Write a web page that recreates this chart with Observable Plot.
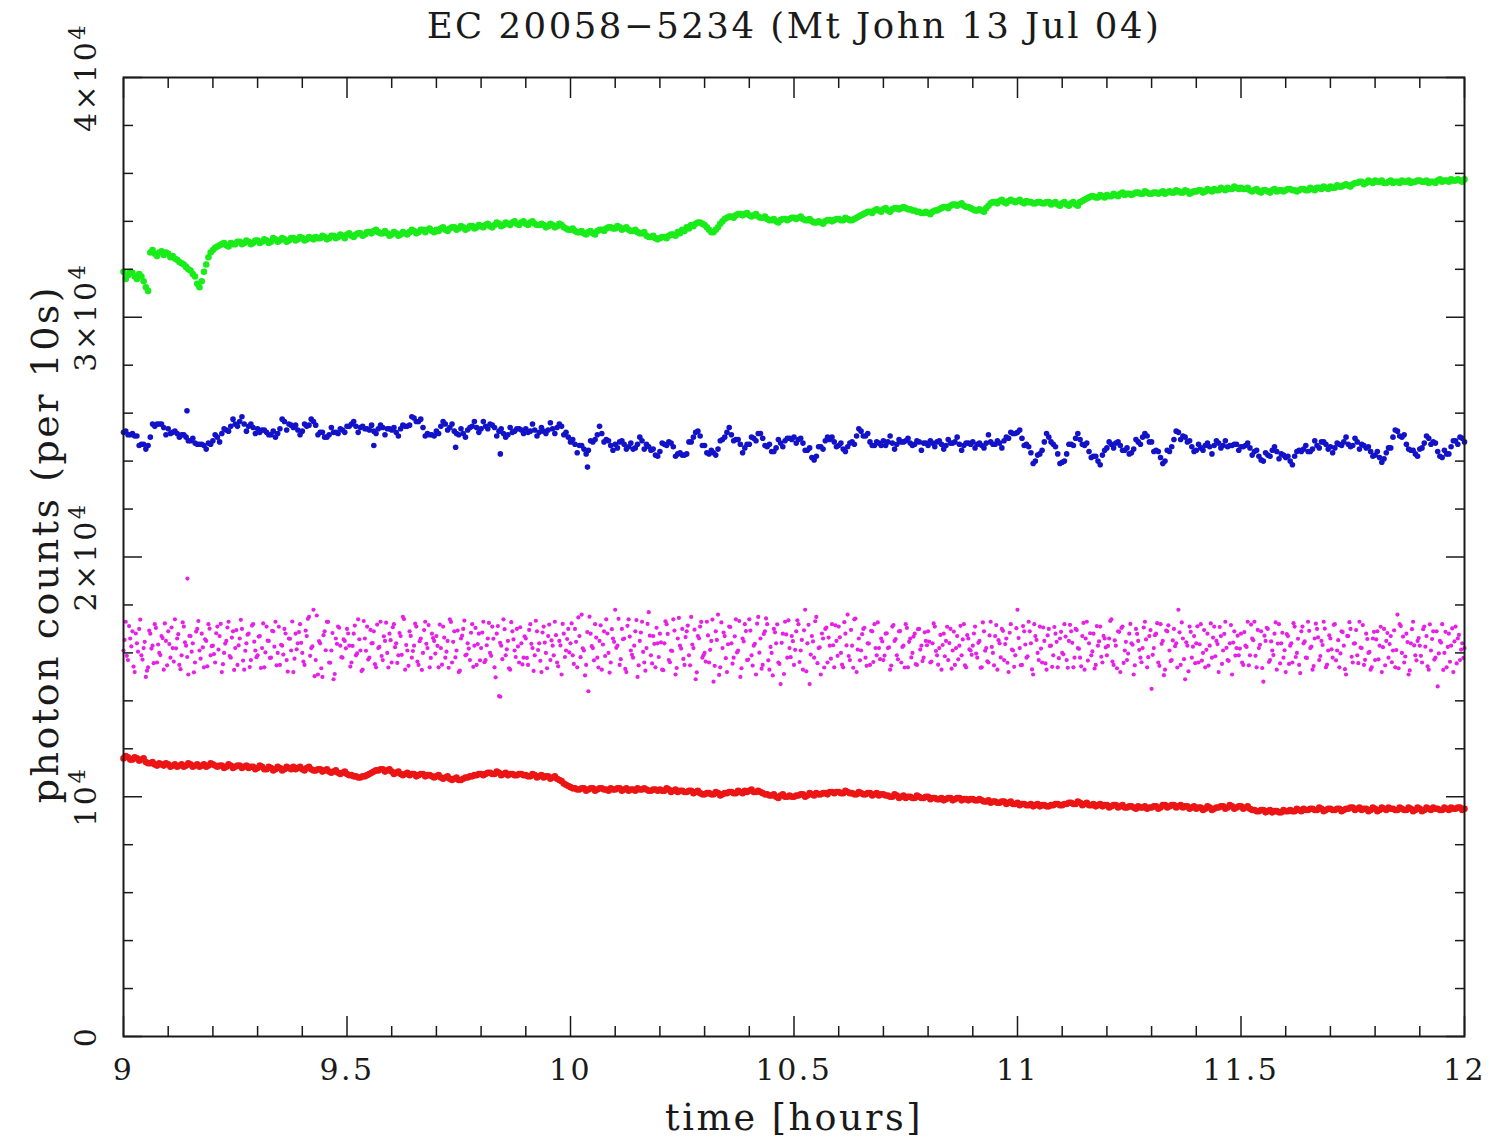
<!DOCTYPE html>
<html><head><meta charset="utf-8">
<script src="https://cdn.jsdelivr.net/npm/d3@7"></script>
<script src="https://cdn.jsdelivr.net/npm/@observablehq/plot@0.6"></script>
<style>
html,body{margin:0;padding:0;background:#fff;}
#chart svg{display:block;}
#chart text{letter-spacing:2.5px;}
</style></head><body><div id="chart"></div>
<script>
const title = "EC 20058\u22125234 (Mt John 13 Jul 04)";
const xLabel = "time [hours]";
const yLabel = "photon counts (per 10s)";

const tStart = 9.0;
const stepSmooth = 0.01;     // green, blue, red: readings every 0.01 h, plus mid-step readings
const stepMagenta = 0.005;   // magenta: readings every 0.005 h, plus mid-step readings

const green = [
31900,31750,31850,31600,31700,31250,
32700,32650,32700,32600,32650,32550,
32400,32250,32100,31950,31700,31250,31900,32500,
32800,32950,33050,33000,33100,33050,33150,33100,33150,33100,
33200,33150,33200,33150,33250,33200,33250,33200,33300,33250,
33300,33250,33300,33350,33300,33350,33300,33400,33350,33400,
33450,33400,33450,33500,33450,33550,33600,33550,33500,33500,
33450,33500,33450,33500,33550,33600,33550,33650,33650,33600,
33650,33700,33650,33700,33750,33700,33750,33700,33800,33750,
33800,33850,33800,33850,33900,33850,33900,33950,33900,33950,
33900,33950,33900,33850,33850,33800,33850,33800,33850,33700,
33650,33600,33550,33500,33550,33500,33600,33650,33700,33750,
33700,33750,33700,33650,33600,33550,33500,33400,33350,33300,
33300,33350,33400,33450,33550,33650,33750,33850,33900,33950,
33850,33650,33550,33750,34000,34150,34200,34250,34300,34300,
34250,34250,34200,34150,34100,34050,34000,34050,34100,34100,
34150,34150,34100,34050,34000,33950,33950,34000,34050,34050,
34100,34050,34100,34050,34150,34250,34350,34400,34450,34450,
34500,34450,34500,34550,34550,34550,34500,34450,34400,34350,
34350,34400,34450,34550,34600,34650,34700,34700,34650,34600,
34500,34450,34450,34550,34750,34800,34850,34800,34850,34850,
34850,34800,34850,34800,34750,34800,34750,34800,34750,34700,
34750,34700,34750,34700,34800,34900,35000,35050,35000,35050,
35100,35050,35100,35150,35100,35150,35150,35200,35150,35200,
35150,35200,35200,35150,35250,35200,35250,35200,35250,35200,
35250,35300,35250,35300,35350,35300,35350,35400,35350,35400,
35400,35350,35300,35300,35250,35300,35250,35300,35250,35300,
35300,35350,35300,35300,35350,35300,35350,35400,35350,35400,
35450,35400,35450,35500,35500,35550,35600,35650,35600,35650,
35700,35650,35600,35650,35600,35650,35700,35650,35600,35650,
35700,35650,35600,35650,35700,35650,35700,35750,35700,35700,
35750];
const greenMid = [
31600,31900,31700,31800,31500,31100,
32800,32550,32750,32700,32500,32450,
32300,32200,32000,31800,31400,31500,32200,32700,
32900,33000,33100,32950,33050,33150,33050,33200,33050,33200,
33100,33250,33100,33300,33150,33300,33150,33300,33200,33350,
33200,33350,33250,33300,33400,33250,33400,33300,33450,33300,
33500,33350,33500,33400,33550,33500,33650,33500,33600,33400,
33550,33400,33550,33450,33650,33500,33650,33550,33700,33550,
33600,33750,33600,33750,33650,33800,33650,33800,33700,33850,
33750,33900,33750,33950,33800,33950,33850,34000,33850,34000,
33850,34000,33850,33900,33750,33900,33750,33900,33750,33650,
33700,33550,33600,33450,33600,33450,33650,33600,33750,33700,
33800,33650,33750,33600,33650,33500,33550,33350,33400,33250,
33350,33300,33450,33400,33500,33600,33700,33800,33950,33900,
33750,33550,33650,33900,34100,34200,34150,34300,34250,34350,
34200,34300,34150,34200,34050,34100,33950,34100,34050,34150,
34100,34200,34050,34100,33950,34000,33900,34050,34000,34100,
34050,34150,34050,34100,34200,34300,34400,34350,34500,34400,
34550,34400,34550,34500,34600,34500,34450,34400,34350,34400,
34300,34450,34500,34600,34550,34700,34650,34750,34600,34550,
34450,34500,34400,34650,34800,34750,34900,34750,34900,34800,
34900,34750,34800,34750,34800,34750,34800,34700,34800,34650,
34800,34650,34800,34650,34850,34950,35050,35000,35100,35000,
35050,35150,35050,35200,35150,35100,35200,35150,35250,35150,
35200,35150,35250,35200,35200,35300,35200,35300,35150,35250,
35300,35200,35350,35250,35300,35400,35300,35350,35450,35350,
35350,35400,35250,35350,35200,35300,35200,35350,35300,35250,
35350,35300,35250,35350,35300,35400,35300,35400,35450,35350,
35400,35500,35450,35550,35450,35600,35650,35550,35700,35600,
35650,35700,35600,35700,35650,35600,35650,35700,35650,35700,
35650,35700,35650,35600,35750,35700,35650,35700,35750,35650];

const blue = [
25200,25100,25150,25050,24700,24500,25000,25450,25550,25400,
25350,25200,25150,25100,25000,24850,24750,24700,24650,24750,
24850,25000,25150,25300,25450,25550,25650,25550,25450,25400,
25350,25300,25200,25100,25000,25350,25650,25550,25400,25300,
25250,25450,25750,25500,25200,25000,25100,25200,25150,25300,
25450,25550,25450,25400,25350,25300,25250,25350,25400,25350,
25300,25200,25350,25450,25500,25800,25650,25400,25150,25100,
25250,25450,25550,25400,25250,25100,25150,25300,25450,25400,
25350,25450,25550,25400,25250,25150,25100,25200,25350,25300,
25350,25250,25300,25200,25250,25300,25350,25400,25450,25200,
24800,24700,24650,24500,24450,24800,25100,25150,24900,24650,
24700,24800,24700,24600,24500,24700,24850,24700,24450,24250,
24400,24700,24800,24600,24300,24250,24300,24800,25200,25050,
24650,24300,24350,24500,24900,25200,25100,24900,24700,24550,
24700,24950,25150,24950,24600,24400,24550,24750,24850,24950,
25000,24900,24750,24450,24150,24200,24600,24850,24900,24800,
24650,24500,24600,24800,25050,25250,25050,24800,24650,24750,
24850,24800,24750,24700,24800,24850,24750,24700,24800,24750,
24650,24750,24800,24700,24650,24750,24800,24700,24650,24750,
24800,24700,24650,24750,24800,24700,24750,24850,24950,25150,
25200,24950,24700,24350,24000,24300,24800,25000,24700,24300,
23950,24300,24700,24950,24900,24650,24400,24200,24000,24250,
24550,24700,24750,24650,24450,24300,24500,24800,25000,25050,
24800,24450,24150,24000,24400,24900,25200,25050,24800,24600,
24450,24550,24650,24600,24650,24750,24650,24600,24650,24700,
24600,24650,24550,24400,24200,24000,24250,24450,24400,24300,
24150,24000,24200,24450,24500,24400,24500,24650,24800,24700,
24600,24550,24700,24800,24700,24650,24800,24700,24550,24400,
24250,24150,24100,24550,25000,25250,25000,24700,24450,24300,
24500,24750,24950,24800,24400,24150,24300,24600,24850,25000,
24800];
const blueMid = [
25250,25100,25050,24650,24700,24650,25550,25550,25550,25100,
25150,25250,25000,25100,24850,24950,24700,24700,24500,24700,
25100,24800,25350,25250,25750,25450,25850,25250,25550,25150,
25200,25300,25100,25250,25150,25750,25300,25500,25500,25100,
25550,25500,25650,25100,25200,25000,25400,25200,25350,25200,
25450,25650,25200,25450,25350,25500,25150,25500,25100,25350,
25400,25050,25500,25450,25850,25650,25750,25050,25100,25050,
25150,25650,25300,25550,25150,25350,25000,25400,25650,25200,
25650,25350,25500,25050,25350,25000,25400,25250,25350,25150,
25200,25550,25050,25400,25150,25600,25150,25550,25100,25000,
24900,24350,24650,24300,24850,24900,25450,24800,24850,24450,
24550,24850,24500,24750,24550,25000,24500,24600,24500,24200,
24750,24650,24750,24200,24350,24250,24800,25000,25250,24650,
24350,24450,24250,24850,25000,25400,24850,24900,24350,24700,
25000,24850,25150,24650,24700,24400,24900,24600,24950,24900,
24750,24950,24450,24550,24050,24600,24500,25000,25000,24600,
24750,24400,24750,24700,25350,25050,25150,24650,24800,24650,
24650,25050,24500,24900,24800,24950,24650,24850,24450,24750,
24850,24600,24850,24500,24900,24750,25000,24450,24750,24700,
24550,24750,24550,25100,24700,24850,24550,25000,25200,25150,
25300,24650,24600,23900,24250,24450,25150,24800,24600,23900,
24000,24700,24650,25150,24700,24750,24150,24200,23850,24450,
24800,24550,24800,24450,24550,24350,24900,24700,25150,24800,
24400,24400,23900,24450,24600,25250,24900,25000,24850,24400,
24700,24450,24750,24300,24850,24550,24850,24650,24700,24450,
24600,24750,24250,24450,24050,24350,24200,24600,24100,24250,
24200,23850,24400,24400,24650,24400,24850,24550,24800,24500,
24350,24750,24650,25000,24600,24950,24500,24650,24600,24200,
24400,23950,24350,24550,25300,25050,25100,24500,24450,24200,
24550,25050,24700,24750,24200,24450,24300,24850,24700,24950];
const blueOutlierT = [9.142, 9.56, 9.743, 9.843, 10.038];
const blueOutlierV = [26100, 24650, 24580, 24300, 23750];

const magenta = [
16100,17300,15700,16600,16900,15200,16400,17000,15900,16200,15000,15400,16800,16300,17200,15600,16000,16700,15300,16500,
16900,15800,16200,17400,16600,15500,15900,17100,16300,15100,16700,16400,15600,17000,16100,16800,15400,16500,17200,15900,
16300,15600,17100,16700,15200,16000,16500,17300,15800,16900,16200,15500,16600,17000,15300,16400,16800,15700,17200,16100,
15900,16700,16200,15400,17100,16500,15800,16900,17300,16000,15500,16300,17000,15700,16600,16100,15200,16800,16400,17200,
16000,15500,16700,17500,16200,17800,15700,15100,16400,15000,16900,17300,15600,16100,14900,16600,17100,16300,15800,16500,
17000,16300,15600,16800,15900,17400,16100,15300,16600,17100,15800,16400,16900,15400,16200,17300,15700,16500,16000,16800,
15600,17200,16400,15900,16700,17500,15300,16100,16900,15800,16300,17100,15500,16600,16000,17300,16200,15400,16800,16500,
16700,15400,16200,17100,15800,16500,17400,15600,16900,16100,15200,16600,17000,15900,16400,15700,17200,16300,15500,16800,
16200,17300,15700,16600,16000,17100,15400,16800,14200,16300,17400,15900,16500,15300,16900,16100,17000,15600,16400,15800,
16600,15500,17200,16200,15900,16900,16400,15200,17100,16000,16700,15700,16300,17300,15600,16500,15100,16800,16100,17000,
16400,15900,17000,15400,16700,17600,16100,15500,14400,16800,16200,17200,15800,16500,15300,16900,17400,16000,15600,16600,
17800,16300,15500,17000,16600,15200,17400,16100,15800,16900,15000,16500,17300,15600,16200,17700,15900,16700,15400,16400,
16800,15300,16400,17200,15700,16100,17400,15100,16600,16300,17000,15500,16900,15900,17500,16200,14900,16700,17100,15800,
16000,17300,15600,16500,14800,16900,17600,15400,16200,16700,15200,17100,16400,15800,17400,16100,15000,16600,17200,15700,
17400,15900,16300,15100,17500,16600,15500,16900,17200,15300,16000,17000,16400,15600,14700,16800,17300,15800,16200,16700,
15500,16900,17200,16100,15300,17800,16400,14700,16700,15800,17500,16200,15100,16600,17000,15600,16300,17200,15400,16500,
17100,16000,15400,16800,17600,15700,16300,17400,15200,16600,16100,17000,15800,16400,15500,16900,17200,15900,16200,16600,
15700,16800,16200,15300,17100,16500,15900,16900,15600,16300,17200,15400,16600,16000,16800,15500,17000,16300,15800,16500,
16900,15600,16400,17100,15900,16200,15300,16800,16500,15700,17000,16100,15500,16700,16300,15900,17200,15400,16600,16100,
16300,17100,15800,16500,15400,16900,16200,15600,17300,16000,16700,15300,16400,17000,15700,16600,15200,17200,16100,15900,
17800,16200,15500,16900,15800,17300,16400,15100,16700,16000,17100,15600,16500,15300,17000,16300,15900,16800,15400,16600,
16000,17200,15700,16500,16900,15400,17000,16200,15800,16700,15300,17300,16400,15900,16800,15500,16300,17100,15600,16600,
15900,16600,17400,15500,16300,16900,15200,17100,16100,15700,16800,16400,15100,17000,16500,15800,16200,17300,15400,16700,
14500,16200,16800,15600,17200,16500,15300,16900,16100,15700,17000,16400,17800,15500,16600,14900,16300,17100,15800,16700,
16400,15600,17200,16000,15400,16800,16300,15800,17100,16500,15200,16700,16100,17300,15700,16400,15100,16900,16200,15900,
16800,15500,16300,17300,15900,16600,17300,15400,16200,16900,14800,16500,17000,15700,16100,16800,15300,17200,16400,15800,
15200,16700,16300,15600,17100,16000,15500,16900,16400,15800,17300,16200,15300,16600,17000,15700,16500,17300,15400,16100,
16600,15800,17200,16100,15400,16900,16300,15100,16700,17000,15600,16400,15900,17300,16200,15500,16800,16000,15300,16600,
15700,16900,16300,15200,17000,16500,15800,16700,16100,15400,17600,17200,16000,15600,16800,15100,16400,17300,15900,16500,
16300,15600,17100,16700,15300,16100,16900,15800,14600,16500,17200,16000,15400,16800,16300,15200,17100,16600,15700,16400,
16200];
const magentaMid = [
16540,15880,17120,16270,15430,16810,16050,17390,15720,16460,15260,16930,16180,15570,17040,16350,15910,16620,17230,15480,
16370,17060,15640,16190,16780,15320,17270,16440,15830,16710,16050,15190,16890,17330,15760,16230,16570,15440,17010,16280,
15950,16820,16140,17210,15530,16390,17060,15870,16640,15290,16950,16310,17380,15680,16090,16760,15410,17140,16470,15820,
16680,15370,17230,16020,16510,15790,16920,16260,15480,17090,16340,15930,16810,15220,16590,17310,15760,16150,16870,16420,
15640,16930,17420,15880,16270,15030,17560,16490,15360,16740,16110,17290,15590,16830,15120,16380,17050,15820,16560,16190,
16810,15430,16290,17140,15980,16570,15240,17330,16090,15720,16960,16410,15530,17180,16250,15870,16690,17260,15390,16530,
17070,16240,15580,16830,15920,17410,16330,15460,16710,16080,17220,15640,16490,15290,16950,16380,17160,15790,16620,15970,
16290,17180,15510,16640,16050,15380,17290,16460,15810,16930,15260,16720,17350,15930,16180,16840,15420,17040,16370,15690,
16850,15610,16320,17250,15880,16590,14980,17120,16420,15740,16990,16150,15360,17280,16560,15830,16270,17070,15520,16690,
15790,16960,16380,15250,17340,16120,15670,16850,16430,15360,17180,16520,15900,16740,15440,16310,17210,15830,16580,16020,
17230,15540,16460,17480,15820,16190,15060,16870,17510,16280,15690,16640,15390,17150,16350,15870,16810,15180,16990,16460,
16210,17420,15740,16570,15330,17130,16680,15920,16300,17370,15480,16850,16040,15260,17210,16720,15560,16380,17050,15830,
16440,15280,17320,16790,15610,16080,16930,15370,17460,16180,15750,16660,17140,15480,16350,16970,15190,16610,17290,15900,
15640,16730,16130,17390,15460,16540,15080,17270,16850,15780,16360,17080,15550,16690,16020,17330,15360,16480,16910,15720,
16930,15470,16380,17220,16010,15340,16790,17440,15690,16250,15060,16860,17190,15540,16420,15120,16770,17360,15820,16490,
16130,17360,15620,16540,16940,15230,17170,15930,16480,17320,15570,16230,16810,15390,17060,16640,15760,16320,17150,15880,
16650,15510,17280,16310,15870,16960,15380,17430,16140,15690,16780,17050,15460,16390,16920,15620,16200,17270,15740,16480,
15890,16820,16230,15470,17160,16580,15730,16910,16250,15390,17040,16460,15810,16680,15530,16990,16140,15660,16860,16320,
16470,15640,17230,16080,15510,16750,16330,15860,17090,16410,15340,16890,16200,15730,17130,16560,15480,16740,16150,15920,
16810,15970,16420,15380,17270,16090,15650,16730,16250,15480,17160,16530,15810,16920,16370,15590,16840,16140,15420,17030,
16620,15490,17120,16350,15860,16900,15310,17200,16540,15700,16180,17060,15560,16730,16290,15420,17080,16460,15780,16880,
15940,16680,15380,17170,16420,15800,16950,16170,15440,17250,16600,15680,16820,16060,15350,17120,16480,15840,16710,16230,
16290,17330,15640,16520,15360,16880,17040,15580,16460,15970,17210,16340,15480,16790,16130,15610,17060,16560,15820,16950,
15920,16740,17240,15460,16380,15070,16930,17150,15660,16520,16280,15390,16860,17270,15740,16440,15230,16880,16260,15570,
17110,16360,15680,16950,16130,15470,17230,16640,15860,16370,17080,15540,16790,16210,15670,17160,16430,15890,16720,16180,
15600,16870,16250,15480,17180,16530,15880,16960,16340,15370,16720,17050,15620,16480,15910,17270,16390,15560,16840,16110,
16780,15540,16400,17240,15830,16590,15160,17100,16480,15790,16920,16260,15450,17220,16650,15870,16330,17010,15510,16730,
16150,17170,15690,16530,15980,16870,15320,16710,17280,15840,16390,16950,15570,16220,17160,15710,16580,16040,15400,16880,
16560,15730,17090,16240,15480,16830,16370,15610,16940,16120,15360,17120,16680,15850,16450,15270,16990,16310,15690,16620,
15880,16990,16260,15440,17190,16580,15720,16900,15980,16430,15290,16880,16250,15630,17020,16480,15560,16750,16140,15790];
const magentaOutlierT = [9.143, 9.843];
const magentaOutlierV = [19100, 14170];

const red = [
11600,11650,11550,11600,11550,11450,11400,11350,11400,11300,
11350,11300,11250,11350,11300,11350,11300,11250,11350,11300,
11350,11250,11300,11250,11300,11250,11300,11250,11200,11250,
11200,11250,11150,11200,11150,11200,11150,11200,11250,11200,
11150,11200,11150,11100,11150,11100,11050,11050,11000,11000,
10950,10900,10850,10800,10850,10950,11050,11100,11150,11100,
11050,11000,10950,10950,10900,10950,10900,10950,10900,10850,
10850,10800,10800,10750,10750,10700,10750,10800,10850,10900,
10950,10950,11000,10950,11000,10950,10900,10950,10900,10950,
10900,10850,10900,10850,10800,10850,10800,10750,10650,10500,
10400,10350,10300,10350,10300,10350,10300,10350,10300,10350,
10300,10350,10300,10250,10300,10350,10300,10300,10250,10300,
10300,10250,10300,10250,10200,10250,10200,10250,10200,10150,
10100,10150,10100,10150,10100,10150,10200,10150,10200,10250,
10250,10200,10250,10150,10100,10050,10000,10050,10000,10050,
10000,10050,10100,10050,10100,10150,10100,10150,10200,10150,
10200,10150,10200,10150,10100,10150,10100,10150,10100,10050,
10100,10050,10000,10050,10000,9950,10000,9950,10000,9950,
10000,9950,9900,9950,9900,9950,9900,9950,9900,9850,
9900,9850,9850,9800,9750,9800,9750,9800,9750,9700,
9750,9700,9650,9700,9650,9600,9650,9600,9650,9700,
9650,9700,9750,9700,9750,9700,9650,9700,9650,9600,
9650,9600,9650,9600,9550,9600,9550,9600,9550,9500,
9550,9600,9550,9650,9600,9650,9600,9550,9600,9550,
9500,9550,9500,9550,9500,9550,9600,9550,9600,9550,
9600,9550,9500,9450,9400,9450,9400,9350,9400,9350,
9400,9450,9400,9450,9500,9450,9500,9450,9500,9450,
9500,9450,9500,9450,9500,9550,9500,9450,9500,9450,
9500,9450,9500,9550,9500,9450,9500,9450,9500,9450,
9500,9450,9500,9550,9500,9450,9500,9550,9500,9550,
9500];
const redMid = [
11700,11550,11650,11500,11600,11400,11450,11300,11350,11400,
11250,11350,11300,11250,11400,11250,11350,11300,11250,11400,
11300,11300,11200,11350,11200,11300,11200,11300,11250,11150,
11300,11150,11250,11100,11250,11100,11250,11150,11150,11250,
11100,11250,11100,11150,11050,11150,11000,11100,10950,11050,
10900,10850,10800,10850,10900,11000,11100,11150,11050,11150,
10950,11050,10900,11000,10950,10850,10950,10850,10900,10800,
10900,10750,10850,10700,10800,10700,10800,10850,10900,10950,
10900,11000,10950,11050,10900,11000,10950,10900,10950,10900,
10850,10950,10800,10900,10850,10750,10850,10700,10550,10450,
10350,10300,10350,10250,10350,10250,10350,10300,10250,10300,
10350,10250,10350,10300,10250,10300,10350,10250,10300,10250,
10250,10350,10200,10300,10250,10200,10250,10150,10250,10100,
10150,10100,10200,10050,10150,10200,10150,10250,10150,10200,
10300,10200,10200,10100,10050,10100,9950,10100,10000,10000,
10050,10100,10000,10150,10050,10100,10150,10100,10200,10200,
10150,10250,10150,10100,10200,10100,10150,10050,10150,10100,
10050,10000,10100,9950,10050,10000,9950,10050,9950,10000,
9900,9950,9900,9850,9950,9850,9950,9850,9900,9900,
9850,9900,9800,9850,9800,9750,9800,9700,9800,9700,
9650,9700,9650,9600,9700,9650,9600,9650,9700,9650,
9700,9750,9700,9800,9650,9750,9650,9600,9700,9650,
9550,9650,9550,9650,9550,9600,9500,9550,9600,9550,
9600,9500,9650,9550,9650,9550,9650,9600,9500,9600,
9550,9450,9600,9450,9550,9600,9500,9650,9500,9600,
9500,9600,9450,9400,9450,9350,9450,9400,9350,9450,
9400,9400,9500,9400,9450,9500,9450,9550,9400,9500,
9450,9500,9400,9500,9550,9450,9550,9500,9400,9550,
9400,9550,9450,9500,9450,9550,9450,9550,9400,9550,
9400,9550,9450,9500,9450,9550,9450,9500,9550,9450];

const seriesColors = {green: "#19ec19", blue: "#1212c8", magenta: "#e620e6", red: "#ec1414"};

const xMajor = [9, 9.5, 10, 10.5, 11, 11.5, 12];
const xMajorLabels = ["9", "9.5", "10", "10.5", "11", "11.5", "12"];
const xMinor = [9.1, 9.2, 9.3, 9.4, 9.6, 9.7, 9.8, 9.9, 10.1, 10.2, 10.3, 10.4, 10.6, 10.7, 10.8, 10.9, 11.1, 11.2, 11.3, 11.4, 11.6, 11.7, 11.8, 11.9];
const yMajor = [0, 10000, 20000, 30000, 40000];
const yMajorLabels = ["0", "10^4", "2\u00d710^4", "3\u00d710^4", "4\u00d710^4"];
const yMinor = [2000, 4000, 6000, 8000, 12000, 14000, 16000, 18000, 22000, 24000, 26000, 28000, 32000, 34000, 36000, 38000];

function toRows(values, step, offset) {
  return values.map((v, i) => ({t: +(tStart + offset + i * step).toFixed(5), v}));
}
function extras(ts, vs) { return ts.map((t, i) => ({t, v: vs[i]})); }
const greenRows = [...toRows(green, stepSmooth, 0), ...toRows(greenMid, stepSmooth, stepSmooth / 2)];
const blueRows = [...toRows(blue, stepSmooth, 0), ...toRows(blueMid, stepSmooth, stepSmooth / 2), ...extras(blueOutlierT, blueOutlierV)];
const magentaRows = [...toRows(magenta, stepMagenta, 0), ...toRows(magentaMid, stepMagenta, stepMagenta / 2), ...extras(magentaOutlierT, magentaOutlierV)];
const redRows = [...toRows(red, stepSmooth, 0), ...toRows(redMid, stepSmooth, stepSmooth / 2)];

const font = "DejaVu Serif";
const ink = "#1a1a1a";

const chart = Plot.plot({
  width: 1490,
  height: 1141,
  marginLeft: 123,
  marginRight: 26,
  marginTop: 77,
  marginBottom: 105,
  style: {fontFamily: font, background: "#fff", color: ink},
  x: {domain: [9, 12], label: null},
  y: {domain: [0, 40000], label: null},
  marks: [
    Plot.dot(greenRows, {x: "t", y: "v", r: 3.3, fill: seriesColors.green, stroke: null}),
    Plot.dot(blueRows, {x: "t", y: "v", r: 2.8, fill: seriesColors.blue, stroke: null}),
    Plot.dot(magentaRows, {x: "t", y: "v", r: 2.1, fill: seriesColors.magenta, stroke: null}),
    Plot.dot(redRows, {x: "t", y: "v", r: 3.3, fill: seriesColors.red, stroke: null}),
    Plot.axisX(xMinor, {anchor: "bottom", tickSize: -10, tickFormat: () => "", label: null, strokeWidth: 1.5}),
    Plot.axisX(xMajor, {anchor: "bottom", tickSize: -20, tickFormat: () => "", label: null, strokeWidth: 1.5}),
    Plot.axisX(xMinor, {anchor: "top", tickSize: -10, tickFormat: () => "", label: null, strokeWidth: 1.5}),
    Plot.axisX(xMajor, {anchor: "top", tickSize: -20, tickFormat: () => "", label: null, strokeWidth: 1.5}),
    Plot.axisY(yMinor, {anchor: "left", tickSize: -10, tickFormat: () => "", label: null, strokeWidth: 1.5}),
    Plot.axisY(yMajor, {anchor: "left", tickSize: -19, tickFormat: () => "", label: null, strokeWidth: 1.5}),
    Plot.axisY(yMinor, {anchor: "right", tickSize: -10, tickFormat: () => "", label: null, strokeWidth: 1.5}),
    Plot.axisY(yMajor, {anchor: "right", tickSize: -19, tickFormat: () => "", label: null, strokeWidth: 1.5}),
    Plot.frame({stroke: ink, strokeWidth: 2}),
    Plot.text(xMajor, {x: d => d, text: (d, i) => xMajorLabels[i], frameAnchor: "bottom", dy: 34, fontSize: 30, textAnchor: "middle", lineAnchor: "middle", fill: ink}),
    Plot.text(yMajor, {y: d => d, text: (d, i) => yMajorLabels[i], frameAnchor: "left", dx: -37, rotate: -90, fontSize: 30, textAnchor: "middle", lineAnchor: "middle", fill: ink}),
    Plot.text([title], {text: d => d, frameAnchor: "top", dy: -51, fontSize: 35.5, textAnchor: "middle", lineAnchor: "middle", fill: ink}),
    Plot.text([xLabel], {text: d => d, frameAnchor: "bottom", dy: 82, fontSize: 36.5, textAnchor: "middle", lineAnchor: "middle", fill: ink}),
    Plot.text([yLabel], {text: d => d, frameAnchor: "left", dx: -78, dy: -13, rotate: -90, fontSize: 38, textAnchor: "middle", lineAnchor: "middle", fill: ink})
  ]
});

// Render "10^4" as 10 with a raised exponent
d3.select(chart).selectAll("text").each(function () {
  const s = this.textContent;
  const k = s.indexOf("^");
  if (k < 0) return;
  const base = s.slice(0, k), exp = s.slice(k + 1);
  const el = d3.select(this);
  el.text(null);
  el.append("tspan").text(base);
  el.append("tspan").attr("dy", "-0.5em").attr("font-size", "0.75em").text(exp);
});

document.getElementById("chart").appendChild(chart);
</script>
</body></html>
